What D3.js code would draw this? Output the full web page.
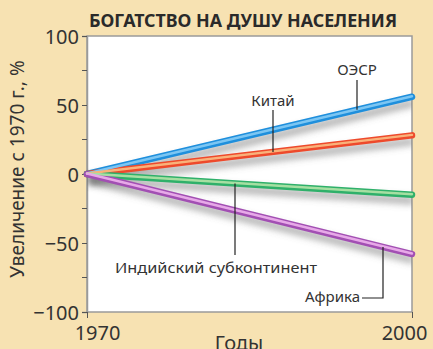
<!DOCTYPE html>
<html>
<head>
<meta charset="utf-8">
<script src="https://cdn.jsdelivr.net/npm/d3@7"></script>
<style>
  html, body { margin: 0; padding: 0; background: #f7e2b2; }
  svg { display: block; }
  text { font-family: "Noto Sans", "DejaVu Sans", sans-serif; fill: #333; }
</style>
</head>
<body>
<svg id="chart" width="433" height="349"></svg>
<script>
// Wealth per capita, % change since 1970
const years = [1970, 2000];
const regions = ["ОЭСР", "Китай", "Индийский субконтинент", "Африка"];
const oecd   = [0, 56];
const china  = [0, 28];
const india  = [0, -15];
const africa = [0, -58];
const yTicks = [-100, -50, 0, 50, 100];
const yMinor = [-75, -25, 25, 75];
const xTicks = [1970, 2000];

const series = [
  { name: regions[0], values: oecd,   base: "#1f8fdc", light: "#7cc6f3" },
  { name: regions[1], values: china,  base: "#ee4a2c", light: "#f9b27a" },
  { name: regions[2], values: india,  base: "#2fb06a", light: "#a6dfa2" },
  { name: regions[3], values: africa, base: "#a24fb3", light: "#e7a9e8" }
];

const svg = d3.select("#chart");
const L = 87, R = 412, T = 36, B = 312;

const x = d3.scaleLinear().domain([1970, 2000]).range([L, R]);
const y = d3.scaleLinear().domain([-100, 100]).range([B, T]);

const defs = svg.append("defs");
const sh = defs.append("filter").attr("id", "shadow")
  .attr("x", "-10%").attr("y", "-50%").attr("width", "120%").attr("height", "200%");
sh.append("feGaussianBlur").attr("stdDeviation", 3.5);

const clip = defs.append("clipPath").attr("id", "plotClip");
clip.append("rect").attr("x", L).attr("y", T).attr("width", R - L).attr("height", B - T);

// Plot panel
svg.append("rect")
  .attr("x", L).attr("y", T).attr("width", R - L).attr("height", B - T)
  .attr("fill", "#fff").attr("stroke", "#9a9a9a").attr("stroke-width", 1.5);

// Title
svg.append("text")
  .attr("x", 243).attr("y", 27)
  .attr("text-anchor", "middle")
  .attr("textLength", 308).attr("lengthAdjust", "spacingAndGlyphs")
  .style("font-size", "18px").style("font-weight", "bold").style("fill", "#2a2a2a")
  .text("БОГАТСТВО НА ДУШУ НАСЕЛЕНИЯ");

// Y axis
const yAxis = svg.append("g").attr("transform", `translate(${L},0)`);
yAxis.call(d3.axisLeft(y).tickValues(yTicks).tickSize(5).tickPadding(3)
  .tickFormat(d => d < 0 ? "\u2212" + Math.abs(d) : d));
yAxis.selectAll(".tick line").attr("stroke", "#555");
yAxis.select(".domain").attr("stroke", "#9a9a9a").attr("stroke-width", 1.5);
yAxis.selectAll("text").style("font-size", "20px").style("fill", "#333")
  .attr("dy", "0.35em");
svg.append("g").selectAll("line").data(yMinor).join("line")
  .attr("x1", L - 5).attr("x2", L).attr("y1", d => y(d)).attr("y2", d => y(d))
  .attr("stroke", "#555");

// X axis: end labels sit inside the tick positions
const xAxis = svg.append("g").attr("transform", `translate(0,${B})`);
xAxis.call(d3.axisBottom(x).tickValues(xTicks).tickSize(6).tickPadding(2).tickFormat(d3.format("d")));
xAxis.select(".domain").remove();
xAxis.selectAll(".tick line").attr("stroke", "#555");
xAxis.selectAll("text").style("font-size", "20px").style("fill", "#333")
  .attr("y", 28).attr("dy", 0)
  .attr("dx", d => d === 1970 ? 10 : -8);

svg.append("text")
  .attr("x", 239).attr("y", 350).attr("text-anchor", "middle")
  .style("font-size", "20px").text("Годы");

svg.append("text")
  .attr("transform", "translate(24,169) rotate(-90)")
  .attr("text-anchor", "middle")
  .style("font-size", "19px")
  .text("Увеличение с 1970 г., %");

// Lines
const line = d3.line().x((d, i) => x(years[i])).y(d => y(d));
const plot = svg.append("g").attr("clip-path", "url(#plotClip)");

plot.selectAll("path.shadow").data(series).join("path")
  .attr("class", "shadow")
  .attr("d", d => line(d.values))
  .attr("transform", "translate(2,6)")
  .attr("fill", "none").attr("stroke", "#6a6a6a").attr("stroke-opacity", 0.55)
  .attr("stroke-width", 7).attr("filter", "url(#shadow)");

const lg = svg.append("g");
lg.selectAll("path.base").data(series).join("path")
  .attr("class", "base")
  .attr("d", d => line(d.values))
  .attr("fill", "none").attr("stroke", d => d.base)
  .attr("stroke-width", 6.5).attr("stroke-linecap", "round");
lg.selectAll("path.hi").data(series).join("path")
  .attr("class", "hi")
  .attr("d", d => line(d.values))
  .attr("transform", "translate(0,-0.5)")
  .attr("fill", "none").attr("stroke", d => d.light)
  .attr("stroke-width", 2.4).attr("stroke-linecap", "round");

// Leader lines and labels
function yAt(vals, xp) {
  const t = (xp - L) / (R - L);
  return y(vals[0] + (vals[1] - vals[0]) * t);
}
const lab = svg.append("g").style("font-size", "15px");
const ink = "#222";

// ОЭСР
lab.append("line").attr("x1", 357).attr("x2", 357).attr("y1", 80).attr("y2", yAt(oecd, 357))
  .attr("stroke", ink).attr("stroke-width", 1.2);
lab.append("text").attr("x", 357).attr("y", 75).attr("text-anchor", "middle").text(regions[0]);

// Китай
lab.append("line").attr("x1", 273).attr("x2", 273).attr("y1", 110).attr("y2", yAt(china, 273))
  .attr("stroke", ink).attr("stroke-width", 1.2);
lab.append("text").attr("x", 273).attr("y", 106).attr("text-anchor", "middle").text(regions[1]);

// Индийский субконтинент
lab.append("line").attr("x1", 235).attr("x2", 235).attr("y1", yAt(india, 235)).attr("y2", 255)
  .attr("stroke", ink).attr("stroke-width", 1.2);
lab.append("text").attr("x", 216).attr("y", 273).attr("text-anchor", "middle")
  .attr("textLength", 202).attr("lengthAdjust", "spacingAndGlyphs").text(regions[2]);

// Африка
lab.append("path")
  .attr("d", `M362,298H383V${yAt(africa, 383)}`)
  .attr("fill", "none").attr("stroke", ink).attr("stroke-width", 1.2);
lab.append("text").attr("x", 360).attr("y", 302).attr("text-anchor", "end").text(regions[3]);
</script>
</body>
</html>
